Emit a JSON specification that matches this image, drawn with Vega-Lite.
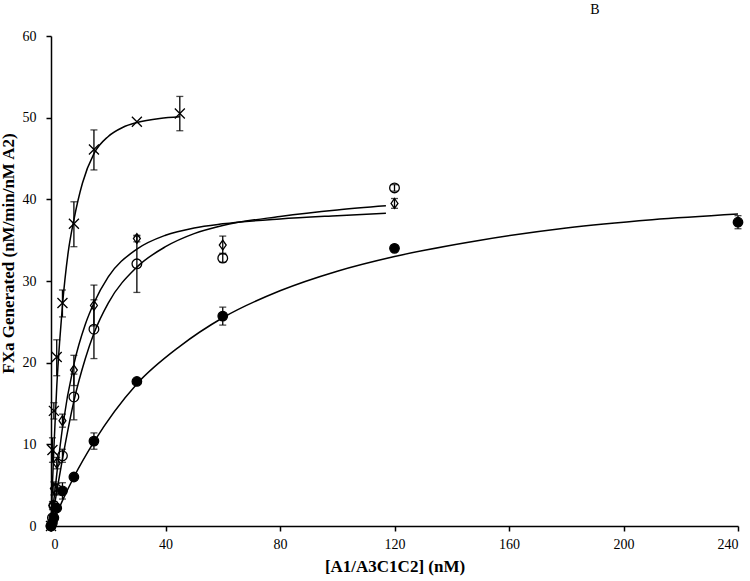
{
  "$schema": "https://vega.github.io/schema/vega-lite/v6.json",
  "width": 687,
  "height": 490,
  "autosize": {"type": "none"},
  "padding": {"left": 51, "top": 36, "right": 12, "bottom": 55},
  "background": "white",
  "config": {
    "view": {"stroke": null},
    "axis": {"grid": false, "domainColor": "black", "domainWidth": 1.5, "tickColor": "black", "tickWidth": 1.5, "tickSize": 5, "labelFont": "Liberation Serif", "labelFontSize": 14, "labelColor": "black", "titleFont": "Liberation Serif", "titleFontSize": 17, "titleFontWeight": "bold", "titleColor": "black"}
  },
  "datasets": {
    "pts": [
      {"series": "X", "x": 0, "y": 0, "lo": 0, "hi": 0},
      {"series": "X", "x": 0.5, "y": 9.3, "lo": 7.8, "hi": 10.8},
      {"series": "X", "x": 1, "y": 14.1, "lo": 13.1, "hi": 15.1},
      {"series": "X", "x": 2, "y": 20.7, "lo": 18.4, "hi": 22.8},
      {"series": "X", "x": 4, "y": 27.3, "lo": 25.6, "hi": 28.9},
      {"series": "X", "x": 8, "y": 37.0, "lo": 34.2, "hi": 39.7},
      {"series": "X", "x": 15, "y": 46.1, "lo": 43.6, "hi": 48.5},
      {"series": "X", "x": 30, "y": 49.5, "lo": 49.5, "hi": 49.5},
      {"series": "X", "x": 45, "y": 50.5, "lo": 48.4, "hi": 52.6},
      {"series": "D", "x": 0, "y": 0, "lo": 0, "hi": 0},
      {"series": "D", "x": 0.5, "y": 2.5, "lo": 2.0, "hi": 3.0},
      {"series": "D", "x": 1, "y": 4.6, "lo": 3.8, "hi": 5.4},
      {"series": "D", "x": 2, "y": 7.7, "lo": 7.0, "hi": 8.4},
      {"series": "D", "x": 4, "y": 12.9, "lo": 12.1, "hi": 13.7},
      {"series": "D", "x": 8, "y": 19.1, "lo": 17.2, "hi": 20.9},
      {"series": "D", "x": 15, "y": 27.0, "lo": 24.5, "hi": 29.5},
      {"series": "D", "x": 30, "y": 35.2, "lo": 34.8, "hi": 35.6},
      {"series": "D", "x": 60, "y": 34.4, "lo": 33.4, "hi": 35.5},
      {"series": "D", "x": 120, "y": 39.5, "lo": 38.9, "hi": 40.1},
      {"series": "O", "x": 0, "y": 0, "lo": 0, "hi": 0},
      {"series": "O", "x": 0.5, "y": 1.0, "lo": 0.7, "hi": 1.3},
      {"series": "O", "x": 1, "y": 2.5, "lo": 2.0, "hi": 3.0},
      {"series": "O", "x": 2, "y": 4.5, "lo": 3.8, "hi": 5.2},
      {"series": "O", "x": 4, "y": 8.6, "lo": 7.8, "hi": 9.4},
      {"series": "O", "x": 8, "y": 15.8, "lo": 13.0, "hi": 18.6},
      {"series": "O", "x": 15, "y": 24.1, "lo": 20.5, "hi": 27.7},
      {"series": "O", "x": 30, "y": 32.1, "lo": 28.6, "hi": 35.5},
      {"series": "O", "x": 60, "y": 32.8, "lo": 32.3, "hi": 33.3},
      {"series": "O", "x": 120, "y": 41.4, "lo": 41.0, "hi": 41.8},
      {"series": "F", "x": 0, "y": 0, "lo": 0, "hi": 0},
      {"series": "F", "x": 0.5, "y": 0.4, "lo": 0.4, "hi": 0.4},
      {"series": "F", "x": 1, "y": 1.0, "lo": 1.0, "hi": 1.0},
      {"series": "F", "x": 2, "y": 2.2, "lo": 1.9, "hi": 2.5},
      {"series": "F", "x": 4, "y": 4.3, "lo": 3.3, "hi": 5.3},
      {"series": "F", "x": 8, "y": 6.0, "lo": 6.0, "hi": 6.0},
      {"series": "F", "x": 15, "y": 10.4, "lo": 9.4, "hi": 11.4},
      {"series": "F", "x": 30, "y": 17.7, "lo": 17.7, "hi": 17.7},
      {"series": "F", "x": 60, "y": 25.7, "lo": 24.6, "hi": 26.8},
      {"series": "F", "x": 120, "y": 34.0, "lo": 34.0, "hi": 34.0},
      {"series": "F", "x": 240, "y": 37.2, "lo": 36.4, "hi": 38.0}
    ],
    "fit": [
      {"series": "X", "x": 0, "y": 0}, {"series": "X", "x": 0.5, "y": 5}, {"series": "X", "x": 1, "y": 9.5}, {"series": "X", "x": 2, "y": 17}, {"series": "X", "x": 3, "y": 22.5}, {"series": "X", "x": 4, "y": 27}, {"series": "X", "x": 6, "y": 33.5}, {"series": "X", "x": 8, "y": 37.5}, {"series": "X", "x": 11, "y": 42}, {"series": "X", "x": 15, "y": 45.6}, {"series": "X", "x": 20, "y": 47.7}, {"series": "X", "x": 25, "y": 48.8}, {"series": "X", "x": 30, "y": 49.4}, {"series": "X", "x": 38, "y": 49.9}, {"series": "X", "x": 45, "y": 50.1},
      {"series": "D", "x": 0, "y": 0}, {"series": "D", "x": 1, "y": 3.2}, {"series": "D", "x": 2, "y": 6.3}, {"series": "D", "x": 4, "y": 12}, {"series": "D", "x": 8, "y": 19.8}, {"series": "D", "x": 12, "y": 24.7}, {"series": "D", "x": 15, "y": 27.3}, {"series": "D", "x": 20, "y": 30.5}, {"series": "D", "x": 30, "y": 33.9}, {"series": "D", "x": 40, "y": 35.6}, {"series": "D", "x": 50, "y": 36.5}, {"series": "D", "x": 60, "y": 37.0}, {"series": "D", "x": 80, "y": 37.6}, {"series": "D", "x": 100, "y": 38.0}, {"series": "D", "x": 117, "y": 38.3},
      {"series": "O", "x": 0, "y": 0}, {"series": "O", "x": 2, "y": 4.2}, {"series": "O", "x": 4, "y": 8.2}, {"series": "O", "x": 8, "y": 15.3}, {"series": "O", "x": 12, "y": 20.5}, {"series": "O", "x": 15, "y": 23.6}, {"series": "O", "x": 20, "y": 27.3}, {"series": "O", "x": 30, "y": 31.7}, {"series": "O", "x": 40, "y": 34.2}, {"series": "O", "x": 50, "y": 35.8}, {"series": "O", "x": 60, "y": 36.8}, {"series": "O", "x": 80, "y": 37.9}, {"series": "O", "x": 100, "y": 38.7}, {"series": "O", "x": 117, "y": 39.2},
      {"series": "F", "x": 0, "y": 0}, {"series": "F", "x": 2, "y": 1.5}, {"series": "F", "x": 4, "y": 3.1}, {"series": "F", "x": 8, "y": 6.0}, {"series": "F", "x": 15, "y": 10.3}, {"series": "F", "x": 30, "y": 17.4}, {"series": "F", "x": 45, "y": 22.0}, {"series": "F", "x": 60, "y": 25.5}, {"series": "F", "x": 80, "y": 28.8}, {"series": "F", "x": 100, "y": 31.2}, {"series": "F", "x": 120, "y": 33.0}, {"series": "F", "x": 150, "y": 35.0}, {"series": "F", "x": 180, "y": 36.5}, {"series": "F", "x": 210, "y": 37.5}, {"series": "F", "x": 240, "y": 38.2}
    ],
    "notes": [{"label": "B", "x": 190, "y": 63.2}]
  },
  "encoding": {
    "x": {"field": "x", "type": "quantitative", "scale": {"domain": [0, 240], "nice": false}, "axis": {"values": [0, 40, 80, 120, 160, 200, 240], "title": "[A1/A3C1C2] (nM)", "labelPadding": 6, "titlePadding": 7}},
    "y": {"field": "y", "type": "quantitative", "scale": {"domain": [0, 60], "nice": false}, "axis": {"values": [0, 10, 20, 30, 40, 50, 60], "title": "FXa Generated (nM/min/nM A2)", "labelPadding": 10, "titleY": 217, "titleX": -34}}
  },
  "layer": [
    {
      "data": {"name": "fit"},
      "mark": {"type": "line", "color": "black", "strokeWidth": 1.5, "interpolate": "monotone"},
      "encoding": {"detail": {"field": "series"}}
    },
    {
      "data": {"name": "pts"},
      "transform": [{"filter": "datum.hi > datum.lo"}],
      "mark": {"type": "errorbar", "color": "black", "thickness": 1.3, "ticks": {"size": 7, "thickness": 1.3, "color": "black"}},
      "encoding": {
        "y": {"field": "lo", "type": "quantitative"},
        "y2": {"field": "hi"}
      }
    },
    {
      "data": {"name": "pts"},
      "mark": {"type": "point", "filled": true, "stroke": "black", "strokeWidth": 1.3, "opacity": 1},
      "encoding": {
        "shape": {"field": "series", "type": "nominal", "legend": null, "scale": {"domain": ["X", "D", "O", "F"], "range": ["M-1,-1L1,1M-1,1L1,-1", "M0,-1L0.7,0L0,1L-0.7,0Z", "circle", "circle"]}},
        "fill": {"field": "series", "type": "nominal", "legend": null, "scale": {"domain": ["X", "D", "O", "F"], "range": ["transparent", "transparent", "transparent", "black"]}},
        "size": {"field": "series", "type": "nominal", "legend": null, "scale": {"domain": ["X", "D", "O", "F"], "range": [100, 90, 70, 80]}}
      }
    },
    {
      "data": {"name": "notes"},
      "mark": {"type": "text", "font": "Liberation Serif", "fontSize": 14, "color": "black"},
      "encoding": {"text": {"field": "label"}}
    }
  ]
}
